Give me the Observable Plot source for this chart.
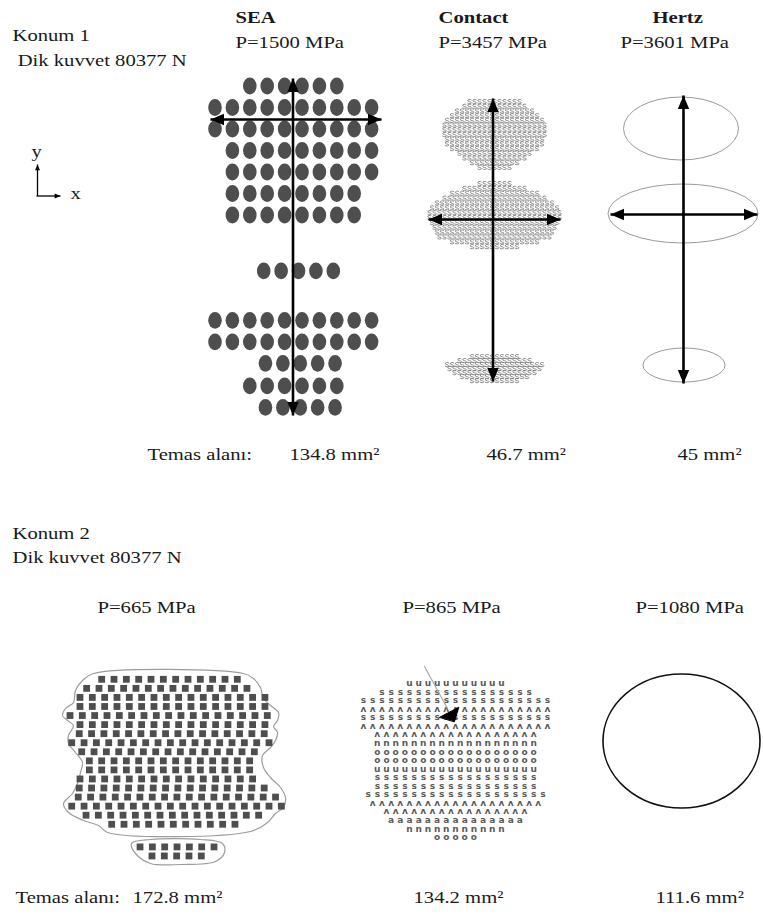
<!DOCTYPE html>
<html>
<head>
<meta charset="utf-8">
<script src="https://cdn.jsdelivr.net/npm/d3@7"></script>
<script src="https://cdn.jsdelivr.net/npm/@observablehq/plot@0.6"></script>
<style>
  html, body { margin: 0; padding: 0; background: #ffffff; }
  #chart svg { display: block; }
</style>
</head>
<body>
<div id="chart"></div>
<script>
// ===================== DATA =====================
const caseTitles   = ["Konum 1", "Konum 2"];
const forceLabels  = [" Dik kuvvet 80377 N", "Dik kuvvet 80377 N"];
const areaLabel    = "Temas alanı:";
const methods      = ["SEA", "Contact", "Hertz"];
const pressures1   = ["P=1500 MPa", "P=3457 MPa", "P=3601 MPa"];
const areas1       = ["134.8 mm²", "46.7 mm²", "45 mm²"];
const pressures2   = ["P=665 MPa", "P=865 MPa", "P=1080 MPa"];
const areas2       = ["172.8 mm²", "134.2 mm²", "111.6 mm²"];

// Konum 1 – SEA contact points (row index, first column index, number of points)
const seaTopRow   = [0, 1, 2, 3, 4, 5, 6, 8.6, 10.9, 11.9, 12.9, 13.95, 14.95];
const seaTopCol0  = [2, 0, 0, 1, 1, 1, 1, 2.8, 0, 0, 2.9, 2, 2.9];
const seaTopCount = [6, 10, 10, 9, 9, 8, 8, 5, 10, 10, 5, 6, 5];

// Konum 1 – Contact: glyphs per row in the three patches
const contactUpperCounts  = [11, 13, 16, 18, 20, 21, 21, 21, 20, 20, 18, 15, 13, 10, 7];
const contactMiddleCounts = [7, 13, 18, 21, 24, 26, 27, 27, 26, 25, 24, 23, 18, 10];
const contactLowerCounts  = [10, 15, 20, 19, 17, 14, 10];

// Konum 1 – Hertz ellipses (centre and semi-axes, figure units)
const hertzCx = [681, 683, 684];
const hertzCy = [128.5, 213.5, 365];
const hertzRx = [57.5, 75, 41];
const hertzRy = [31.5, 29.5, 17];

// Konum 1 – principal axes drawn as double arrows
const axisX      = [292.5, 492.5, 683];
const axisTop    = [78, 98, 95];
const axisBottom = [415, 381, 383];
const axisY      = [119, 219, 214];
const axisLeft   = [210, 428, 610];
const axisRight  = [381, 560, 757];

// Konum 2 – SEA squares (row index, first column index, count)
const seaBotRow   = [0,1,2,3,4,5,6,7,8,9,10,11,12,13,14,15,16, 18.5, 19.5];
const seaBotCol0  = [2.57,1.35,0.81,0.81,0,0.81,0.75,0.14,0.95,1.57,1.57,0.81,0.75,0.67,0.14,1.3,3.38, 5.68, 6.65];
const seaBotCount = [12,14,16,16,17,16,16,17,15,14,14,15,16,17,18,15,11, 7, 5];

// Konum 2 – SEA outlines (traced)
const seaOutlineX = [93,243,253,260,263,270,278,277,273,277,275,270,262,263,270,280,285,283,275,267,250,107,98,83,68,63,72,77,80,82,75,68,68,73,67,62,65,73,75,82];
const seaOutlineY = [673,673,678,687,698,705,712,720,726,732,740,747,755,767,777,787,797,807,813,822,831,832,825,820,812,803,793,783,772,762,752,743,735,725,720,715,708,702,690,680];
const blobOutlineX = [131,150,200,222,224,215,180,150,135];
const blobOutlineY = [843,839,839,843,852,861,864,863,853];

// Konum 2 – Contact glyph rows
const contactBotCounts = [11,17,21,21,21,21,18,18,18,18,18,18,18,20,19,16,15,11,5];
const contactBotGlyphs = ["u","s","s","ʌ","s","ʌ","ʌ","n","o","o","u","s","s","s","ʌ","ʌ","a","n","o"];
const pointerLineX = [424, 447];
const pointerLineY = [666, 708];
const pointerHeadX = [439.3, 458.3, 454];
const pointerHeadY = [716.7, 706.7, 721];

// Konum 2 – Hertz ellipse
const hertz2Cx = [681.5];
const hertz2Cy = [741];
const hertz2Rx = [78.5];
const hertz2Ry = [67];

// ===================== LAYOUT (positions, sizes, styles) =====================
const W = 763, H = 916;
const FONT = "Liberation Serif";
const FS = 17.5, STRETCH = 1.18, INK = "#1a1a1a";
const LAY = {
  titleX: [235, 438, 652], titleY: 22,
  p1X: [235, 438, 620], p1Y: 47,
  area1LabelX: 147, a1X: [289, 486, 677], a1Y: 459,
  p2X: [97, 402, 635], p2Y: 612,
  area2LabelX: 15, a2X: [132, 413, 655], a2Y: 902,
  caseX: [12, 12], caseY: [40, 538],
  forceX: [12, 12], forceY: [65, 562],
  seaTop: {x0: 215, dx: 17.4, y0: 86, dy: 21.5, rx: 6.8, ry: 8.4},
  contactTop: [
    {cx: 494, y0: 101, dy: 4.7},
    {cx: 494, y0: 183, dy: 4.85},
    {cx: 494, y0: 356, dy: 4.0}
  ],
  contactTopDx: 5,
  seaBot: {x0: 70, dx: 12.33, y0: 679.3, dy: 9.06, half: 3.4},
  contactBot: {cx: 455, dx: 9.2, y0: 682.7, dy: 8.56},
  head: 6
};

// ===================== DERIVED MARK DATA =====================
const seaTopDots = seaTopRow.flatMap((r, i) =>
  d3.range(seaTopCount[i]).map(k => ({
    x: LAY.seaTop.x0 + LAY.seaTop.dx * (seaTopCol0[i] + k),
    y: LAY.seaTop.y0 + LAY.seaTop.dy * r
  })));

const contactTopCells = [contactUpperCounts, contactMiddleCounts, contactLowerCounts].flatMap((counts, c) =>
  counts.flatMap((n, r) => d3.range(n).map(k => ({
    x: LAY.contactTop[c].cx + LAY.contactTopDx * (k - (n - 1) / 2),
    y: LAY.contactTop[c].y0 + LAY.contactTop[c].dy * r
  }))));

const hertzTop = hertzCx.map((cx, i) => ({cx, cy: hertzCy[i], rx: hertzRx[i], ry: hertzRy[i]}));
const hertzBot = hertz2Cx.map((cx, i) => ({cx, cy: hertz2Cy[i], rx: hertz2Rx[i], ry: hertz2Ry[i]}));

const arrows = axisX.map((x, i) => ({
  x, top: axisTop[i], bottom: axisBottom[i], y: axisY[i], left: axisLeft[i], right: axisRight[i]
}));

const seaBotSquares = seaBotRow.flatMap((r, i) =>
  d3.range(seaBotCount[i]).map(k => ({
    x: LAY.seaBot.x0 + LAY.seaBot.dx * (seaBotCol0[i] + k),
    y: LAY.seaBot.y0 + LAY.seaBot.dy * r
  })));

const outlines = [
  ...seaOutlineX.map((x, i) => ({id: "main", x, y: seaOutlineY[i]})),
  ...blobOutlineX.map((x, i) => ({id: "blob", x, y: blobOutlineY[i]}))
];

const contactBotCells = contactBotCounts.flatMap((n, r) =>
  d3.range(n).map(k => ({
    x: LAY.contactBot.cx + LAY.contactBot.dx * (k - (n - 1) / 2),
    y: LAY.contactBot.y0 + LAY.contactBot.dy * r,
    g: contactBotGlyphs[r]
  })));

const pointerLine = pointerLineX.map((x, i) => ({x, y: pointerLineY[i]}));
const pointerHead = pointerHeadX.map((x, i) => ({x, y: pointerHeadY[i]}));

// labels
const normalLabels = [
  ...caseTitles.map((t, i) => ({text: t, x: LAY.caseX[i], y: LAY.caseY[i]})),
  ...forceLabels.map((t, i) => ({text: t, x: LAY.forceX[i], y: LAY.forceY[i]})),
  ...pressures1.map((t, i) => ({text: t, x: LAY.p1X[i], y: LAY.p1Y})),
  {text: areaLabel, x: LAY.area1LabelX, y: LAY.a1Y},
  ...areas1.map((t, i) => ({text: t, x: LAY.a1X[i], y: LAY.a1Y})),
  ...pressures2.map((t, i) => ({text: t, x: LAY.p2X[i], y: LAY.p2Y})),
  {text: areaLabel, x: LAY.area2LabelX, y: LAY.a2Y},
  ...areas2.map((t, i) => ({text: t, x: LAY.a2X[i], y: LAY.a2Y})),
  {text: "y", x: 31, y: 156},
  {text: "x", x: 70, y: 198}
];
const boldLabels = methods.map((t, i) => ({text: t, x: LAY.titleX[i], y: LAY.titleY}));

// small coordinate-frame glyph
const frameLines = [{x1: 37, y1: 164, x2: 37, y2: 195.5}, {x1: 36, y1: 195.5, x2: 60, y2: 195.5}];

// ===================== CUSTOM SYMBOLS =====================
function headSymbol(dir) {
  return {
    draw(ctx, size) {
      const r = Math.sqrt(size / Math.PI);
      const L = 2.25 * r, w = 0.95 * r;
      const pts = {
        up:    [[0, 0], [w, L], [-w, L]],
        down:  [[0, 0], [w, -L], [-w, -L]],
        left:  [[0, 0], [L, w], [L, -w]],
        right: [[0, 0], [-L, w], [-L, -w]]
      }[dir];
      ctx.moveTo(pts[0][0], pts[0][1]);
      ctx.lineTo(pts[1][0], pts[1][1]);
      ctx.lineTo(pts[2][0], pts[2][1]);
      ctx.closePath();
    }
  };
}
const headUp = headSymbol("up"), headDown = headSymbol("down"),
      headLeft = headSymbol("left"), headRight = headSymbol("right");

// tiny "s"-like squiggle used for the Contact solver's surface elements
const squiggle = {
  draw(ctx, size) {
    const r = Math.sqrt(size / Math.PI);
    ctx.moveTo(r, -0.8 * r);
    ctx.bezierCurveTo(0.4 * r, -1.3 * r, -1.1 * r, -1.1 * r, -0.9 * r, -0.3 * r);
    ctx.bezierCurveTo(-0.7 * r, 0.3 * r, 1.0 * r, 0.0 * r, 1.0 * r, 0.6 * r);
    ctx.bezierCurveTo(1.0 * r, 1.3 * r, -0.6 * r, 1.3 * r, -1.1 * r, 0.8 * r);
  }
};

// ===================== PLOT =====================
const svg = Plot.plot({
  width: W,
  height: H,
  margin: 0,
  x: {domain: [0, W], range: [0, W], axis: null},
  y: {domain: [0, H], range: [0, H], axis: null},
  style: {background: "#ffffff", overflow: "visible"},
  marks: [
    // --- Konum 1 SEA elliptic contact spots
    Plot.rect(seaTopDots, {
      x1: d => d.x - LAY.seaTop.rx, x2: d => d.x + LAY.seaTop.rx,
      y1: d => d.y - LAY.seaTop.ry, y2: d => d.y + LAY.seaTop.ry,
      rx: 100, ry: 100, fill: "#4e4e4e"
    }),
    // --- Konum 1 Contact surface-element patches
    Plot.dot(contactTopCells, {
      x: "x", y: "y", symbol: squiggle, r: 1.9,
      fill: "none", stroke: "#7a7a7a", strokeWidth: 0.85
    }),
    // --- Konum 1 Hertz ellipses
    Plot.rect(hertzTop, {
      x1: d => d.cx - d.rx, x2: d => d.cx + d.rx,
      y1: d => d.cy - d.ry, y2: d => d.cy + d.ry,
      rx: 1000, ry: 1000, fill: "none", stroke: "#9a9a9a", strokeWidth: 1
    }),
    // --- double arrows (shafts)
    Plot.link(arrows, {x1: "x", x2: "x", y1: "top", y2: "bottom", stroke: "#000", strokeWidth: 2.6}),
    Plot.link(arrows, {x1: "left", x2: "right", y1: "y", y2: "y", stroke: "#000", strokeWidth: 2.6}),
    // --- arrow heads
    Plot.dot(arrows, {x: "x", y: "top", symbol: headUp, r: LAY.head, fill: "#000", stroke: "none"}),
    Plot.dot(arrows, {x: "x", y: "bottom", symbol: headDown, r: LAY.head, fill: "#000", stroke: "none"}),
    Plot.dot(arrows, {x: "left", y: "y", symbol: headLeft, r: LAY.head, fill: "#000", stroke: "none"}),
    Plot.dot(arrows, {x: "right", y: "y", symbol: headRight, r: LAY.head, fill: "#000", stroke: "none"}),

    // --- coordinate frame glyph
    Plot.link(frameLines, {x1: "x1", y1: "y1", x2: "x2", y2: "y2", stroke: "#000", strokeWidth: 1.3}),
    Plot.dot([frameLines[0]], {x: "x1", y: "y1", symbol: headUp, r: 2.6, fill: "#000", stroke: "none"}),
    Plot.dot([frameLines[1]], {x: "x2", y: "y2", symbol: headRight, r: 2.6, fill: "#000", stroke: "none"}),

    // --- Konum 2 SEA outline and squares
    Plot.line(outlines, {
      x: "x", y: "y", z: "id", curve: "catmull-rom-closed",
      stroke: "#9d9d9d", strokeWidth: 1.2, fill: "none"
    }),
    Plot.rect(seaBotSquares, {
      x1: d => d.x - LAY.seaBot.half, x2: d => d.x + LAY.seaBot.half,
      y1: d => d.y - LAY.seaBot.half, y2: d => d.y + LAY.seaBot.half,
      fill: "#4e4e4e"
    }),

    // --- Konum 2 Contact glyphs + pointer
    Plot.text(contactBotCells, {
      x: "x", y: "y", text: "g", fontSize: 9, fontWeight: "bold",
      fontFamily: "DejaVu Sans", fill: "#5a5a5a"
    }),
    Plot.line(pointerLine, {x: "x", y: "y", stroke: "#aaaaaa", strokeWidth: 1.2}),
    Plot.line(pointerHead, {x: "x", y: "y", curve: "linear-closed", fill: "#000", stroke: "#000", strokeWidth: 1}),

    // --- Konum 2 Hertz ellipse
    Plot.rect(hertzBot, {
      x1: d => d.cx - d.rx, x2: d => d.cx + d.rx,
      y1: d => d.cy - d.ry, y2: d => d.cy + d.ry,
      rx: 1000, ry: 1000, fill: "none", stroke: "#111", strokeWidth: 1.6
    }),

    // --- labels
    Plot.text(normalLabels, {
      x: "x", y: "y", text: "text", textAnchor: "start", lineAnchor: "bottom",
      fontFamily: FONT, fontSize: FS, fill: INK
    }),
    Plot.text(boldLabels, {
      x: "x", y: "y", text: "text", textAnchor: "start", lineAnchor: "bottom",
      fontFamily: FONT, fontSize: FS, fontWeight: "bold", fill: INK
    })
  ]
});

// The source figure's serif lettering is horizontally wider than Times: stretch label text.
svg.querySelectorAll("g").forEach(g => {
  const ff = g.getAttribute("font-family") || "";
  if (!ff.includes("Liberation Serif")) return;
  g.querySelectorAll("text").forEach(t => {
    const tr = t.getAttribute("transform");
    if (tr) {
      t.setAttribute("transform", tr + ` scale(${STRETCH},1)`);
    } else {
      const x = +(t.getAttribute("x") || 0);
      t.setAttribute("transform", `translate(${x},0) scale(${STRETCH},1) translate(${-x},0)`);
    }
  });
});

document.getElementById("chart").append(svg);
</script>
</body>
</html>
